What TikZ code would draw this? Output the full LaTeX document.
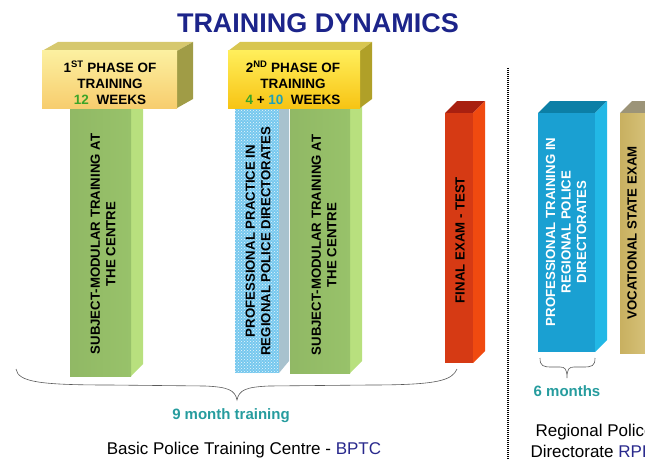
\documentclass[tikz,border=0pt]{standalone}
\usepackage{fontspec}
\setmainfont{Liberation Sans}
\usetikzlibrary{patterns}
\definecolor{titleblue}{RGB}{28,36,138}
\definecolor{teal2}{RGB}{38,156,158}
\definecolor{grn12}{RGB}{60,165,40}
\definecolor{cyan10}{RGB}{30,160,185}
\definecolor{bptc}{RGB}{40,40,140}
\definecolor{y1top}{RGB}{214,200,110}
\definecolor{y1side}{RGB}{160,156,70}
\definecolor{y1a}{RGB}{252,240,160}
\definecolor{y1b}{RGB}{247,205,110}
\definecolor{y2top}{RGB}{216,198,80}
\definecolor{y2side}{RGB}{176,160,40}
\definecolor{y2a}{RGB}{255,238,90}
\definecolor{y2b}{RGB}{247,196,20}
\definecolor{gfront}{RGB}{152,194,106}
\definecolor{gside}{RGB}{184,224,126}
\definecolor{gtop}{RGB}{120,160,80}
\definecolor{bfront}{RGB}{118,200,238}
\definecolor{bside}{RGB}{168,194,206}
\definecolor{rfront}{RGB}{214,58,20}
\definecolor{rside}{RGB}{240,74,16}
\definecolor{rtop}{RGB}{168,32,16}
\definecolor{cfront}{RGB}{26,160,210}
\definecolor{cside}{RGB}{34,184,230}
\definecolor{ctop}{RGB}{12,127,166}
\definecolor{gold1}{RGB}{200,176,96}
\definecolor{gold2}{RGB}{242,228,170}
\definecolor{goldtop}{RGB}{156,148,120}
\definecolor{bracegray}{RGB}{90,90,90}
% 3D bar: x1 y1 x2 y2 dx dy frontstyle sidecolor topcolor
\newcommand{\tdbar}[9]{%
  \fill[#9] (#1,#2) -- (#1+#5,#2-#6) -- (#3+#5,#2-#6) -- (#3,#2) -- cycle;
  \fill[#8] (#3,#2) -- (#3+#5,#2-#6) -- (#3+#5,#4-#6) -- (#3,#4) -- cycle;
  \fill[#7] (#1,#2) rectangle (#3,#4);
}
\tikzset{
  boxtxt/.style={font=\fontsize{13.5}{16}\selectfont\bfseries, align=center, inner sep=0pt},
  bartxt/.style={font=\fontsize{13.2}{15.5}\selectfont\bfseries, align=center, rotate=90, inner sep=0pt},
  bracestyle/.style={draw=bracegray, line width=0.6pt},
}
\begin{document}
\begin{tikzpicture}[x=1pt,y=-1pt]
\useasboundingbox (0,0) rectangle (645,460);
\clip (0,0) rectangle (645,460);
% title
\node[font=\fontsize{27}{30}\selectfont\bfseries, text=titleblue] (title) at (318,23) {TRAINING DYNAMICS};
% bars of first part
\tdbar{70}{104}{131}{376}{12}{12}{left color=gfront!95!black, right color=gfront}{gside}{gtop}
\tdbar{235}{104}{279}{373}{10}{12}{fill=bfront}{bside}{bside}
\fill[pattern=crosshatch dots, pattern color=white!85!bfront] (235,104) rectangle (279,373);
\tdbar{290}{104}{350}{373}{12}{12}{left color=gfront!95!black, right color=gfront}{gside}{gtop}
% phase boxes
\tdbar{42}{51}{177}{108}{16}{9}{top color=y1a, bottom color=y1b}{y1side}{y1top}
\tdbar{228}{51}{360}{108}{12}{9}{top color=y2a, bottom color=y2b}{y2side}{y2top}
\node[boxtxt] (ph1) at (110,83) {1\textsuperscript{ST} PHASE OF\\TRAINING\\\textcolor{grn12}{12}\ \ WEEKS};
\node[boxtxt] (ph2) at (293,83) {2\textsuperscript{ND} PHASE OF\\TRAINING\\\textcolor{grn12}{4} + \textcolor{cyan10}{10}\ \ WEEKS};
% bar texts
\node[bartxt] (b1) at (103,244) {SUBJECT-MODULAR TRAINING AT\\THE CENTRE};
\node[bartxt] (b2) at (258,241) {PROFESSIONAL PRACTICE IN\\REGIONAL POLICE DIRECTORATES};
\node[bartxt] (b3) at (324,245) {SUBJECT-MODULAR TRAINING AT\\THE CENTRE};
% final exam
\tdbar{445}{113}{473}{363}{12}{12}{fill=rfront}{rside}{rtop}
\node[bartxt] (fe) at (460,240) {FINAL EXAM - TEST};
% separator
\coordinate (sepT) at (508,68);
\coordinate (sepB) at (508,460);
\draw[line width=1.1pt, dash pattern=on 0.9pt off 1.1pt] (sepT) -- (sepB);
% regional part
\tdbar{538}{113}{595}{352}{12}{12}{fill=cfront}{cside}{ctop}
\node[bartxt, text=white] (pt) at (566,232) {PROFESSIONAL TRAINING IN\\REGIONAL POLICE\\DIRECTORATES};
\tdbar{620}{113}{700}{353}{12}{12}{left color=gold1, right color=gold2}{gold2}{goldtop}
\node[bartxt] (vs) at (632,233) {VOCATIONAL STATE EXAM};
% big brace
\coordinate (bl) at (16,369);
\coordinate (bm) at (237,400);
\coordinate (br) at (457,369);
\draw[bracestyle] (bl) .. controls (18,382) and (40,385) .. (110,385)
  -- (205,386) .. controls (228,387) and (235,390) .. (bm)
  .. controls (239,390) and (246,387) .. (269,386)
  -- (370,385) .. controls (440,385) and (452,380) .. (br);
\node[font=\fontsize{15}{18}\selectfont\bfseries, text=teal2] (nine) at (231,416) {9 month training};
\node[font=\fontsize{17}{20}\selectfont] (bptc) at (244,450) {Basic Police Training Centre - \textcolor{bptc}{BPTC}};
% small brace
\coordinate (sl) at (540,358);
\coordinate (sm) at (567,378);
\coordinate (sr) at (595,358);
\draw[bracestyle] (sl) .. controls (540,366) and (543,367) .. (552,367)
  -- (560,367) .. controls (565,367) and (567,369) .. (sm)
  .. controls (567,369) and (569,367) .. (574,367)
  -- (583,367) .. controls (592,367) and (595,366) .. (sr);
\node[font=\fontsize{15}{18}\selectfont\bfseries, text=teal2] (six) at (567,391) {6 months};
\node[font=\fontsize{17}{20}\selectfont, anchor=west] (rp1) at (532,432) {Regional Police};
\node[font=\fontsize{17}{20}\selectfont, anchor=west] (rp2) at (527,451) {Directorate \textcolor{bptc}{RPD}};
\end{tikzpicture}
\end{document}
